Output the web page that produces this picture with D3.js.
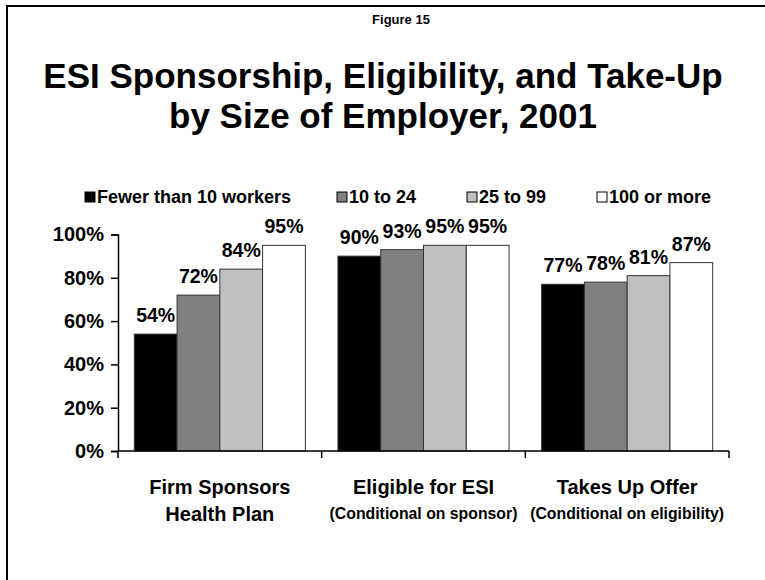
<!DOCTYPE html>
<html>
<head>
<meta charset="utf-8">
<script src="https://cdn.jsdelivr.net/npm/d3@7/dist/d3.min.js"></script>
<style>
  html, body { margin: 0; padding: 0; background: #fff; }
  svg { display: block; }
  text { font-family: "Liberation Sans", Arial, Helvetica, sans-serif; font-weight: bold; fill: #000; }
</style>
</head>
<body>
<svg id="chart" width="765" height="580"></svg>
<script>
// Share of workers, by employer size
const categories = ["Firm Sponsors", "Eligible for ESI", "Takes Up Offer"];
const categorySubLabels = ["Health Plan", "(Conditional on sponsor)", "(Conditional on eligibility)"];
const seriesNames = ["Fewer than 10 workers", "10 to 24", "25 to 99", "100 or more"];
const seriesColors = ["#000000", "#808080", "#c0c0c0", "#ffffff"];
const fewerThan10 = [54, 90, 77];
const from10to24 = [72, 93, 78];
const from25to99 = [84, 95, 81];
const hundredOrMore = [95, 95, 87];
const yTicks = [0, 20, 40, 60, 80, 100];

const seriesValues = [fewerThan10, from10to24, from25to99, hundredOrMore];

const svg = d3.select("#chart");

// page frame
svg.append("rect")
  .attr("x", 7).attr("y", 6)
  .attr("width", 800).attr("height", 800)
  .attr("fill", "none").attr("stroke", "#000").attr("stroke-width", 2);

// headings
svg.append("text")
  .attr("x", 401).attr("y", 24)
  .attr("text-anchor", "middle")
  .style("font-size", "13px")
  .text("Figure 15");

svg.append("text")
  .attr("x", 383).attr("y", 88)
  .attr("text-anchor", "middle")
  .style("font-size", "35px")
  .text("ESI Sponsorship, Eligibility, and Take-Up");

svg.append("text")
  .attr("x", 383).attr("y", 128)
  .attr("text-anchor", "middle")
  .style("font-size", "35px")
  .text("by Size of Employer, 2001");

// scales
const plot = { left: 118, right: 729, top: 234.5, bottom: 451 };

const x0 = d3.scaleBand()
  .domain(categories)
  .range([plot.left, plot.right]);

const groupPad = 16.3;
const x1 = d3.scaleBand()
  .domain(seriesNames)
  .range([groupPad, x0.bandwidth() - groupPad]);

const y = d3.scaleLinear()
  .domain([0, 100])
  .range([plot.bottom, plot.top]);

const color = d3.scaleOrdinal().domain(seriesNames).range(seriesColors);

// y axis
const yAxis = svg.append("g")
  .attr("transform", `translate(${plot.left},0)`)
  .call(d3.axisLeft(y).tickValues(yTicks).tickFormat(d => d + "%").tickSize(7).tickPadding(7));
yAxis.select(".domain").attr("stroke", "#000").attr("stroke-width", 1.5);
yAxis.selectAll(".tick line").attr("stroke", "#000").attr("stroke-width", 1.5);
yAxis.selectAll(".tick text")
  .style("font-family", "'Liberation Sans', Arial, sans-serif")
  .style("font-weight", "bold")
  .style("font-size", "20px")
  .attr("fill", "#000");
yAxis.attr("font-size", null);

// bars
const rows = categories.map((c, i) => ({
  category: c,
  values: seriesNames.map((s, j) => ({ series: s, value: seriesValues[j][i] }))
}));

const groups = svg.append("g").selectAll("g")
  .data(rows)
  .join("g")
  .attr("transform", d => `translate(${x0(d.category)},0)`);

groups.selectAll("rect")
  .data(d => d.values)
  .join("rect")
  .attr("x", d => x1(d.series))
  .attr("width", x1.bandwidth())
  .attr("y", d => y(d.value))
  .attr("height", d => y(0) - y(d.value))
  .attr("fill", d => color(d.series))
  .attr("stroke", "#333")
  .attr("stroke-width", 1);

groups.selectAll("text.value")
  .data(d => d.values)
  .join("text")
  .attr("class", "value")
  .attr("x", d => x1(d.series) + x1.bandwidth() / 2)
  .attr("y", d => y(d.value) - 12)
  .attr("text-anchor", "middle")
  .style("font-size", "19.5px")
  .text(d => d.value + "%");

// x axis: baseline with ticks at category boundaries
const xAxis = svg.append("g");
xAxis.append("line")
  .attr("x1", plot.left).attr("x2", plot.right)
  .attr("y1", y(0)).attr("y2", y(0))
  .attr("stroke", "#000").attr("stroke-width", 1.5);
const boundaries = categories.map(c => x0(c)).concat([x0(categories[categories.length - 1]) + x0.bandwidth()]);
xAxis.selectAll("line.tick")
  .data(boundaries)
  .join("line")
  .attr("class", "tick")
  .attr("x1", d => d).attr("x2", d => d)
  .attr("y1", y(0)).attr("y2", y(0) + 7)
  .attr("stroke", "#000").attr("stroke-width", 1.5);

// category labels
xAxis.selectAll("text.cat")
  .data(categories)
  .join("text")
  .attr("class", "cat")
  .attr("x", d => x0(d) + x0.bandwidth() / 2)
  .attr("y", 494)
  .attr("text-anchor", "middle")
  .style("font-size", "20px")
  .text(d => d);

xAxis.selectAll("text.sub")
  .data(categorySubLabels)
  .join("text")
  .attr("class", "sub")
  .attr("x", (d, i) => x0(categories[i]) + x0.bandwidth() / 2)
  .attr("y", (d, i) => i === 0 ? 521 : 519)
  .attr("text-anchor", "middle")
  .style("font-size", (d, i) => i === 0 ? "20px" : "15.8px")
  .text(d => d);

// legend
const legendX = [85, 337, 467, 597];
const legend = svg.append("g").selectAll("g")
  .data(seriesNames)
  .join("g")
  .attr("transform", (d, i) => `translate(${legendX[i]},203)`);
legend.append("rect")
  .attr("x", 0).attr("y", -11)
  .attr("width", 10).attr("height", 10)
  .attr("fill", d => color(d))
  .attr("stroke", "#000").attr("stroke-width", 1);
legend.append("text")
  .attr("x", 12).attr("y", 0)
  .style("font-size", "18px")
  .text(d => d);
</script>
</body>
</html>
